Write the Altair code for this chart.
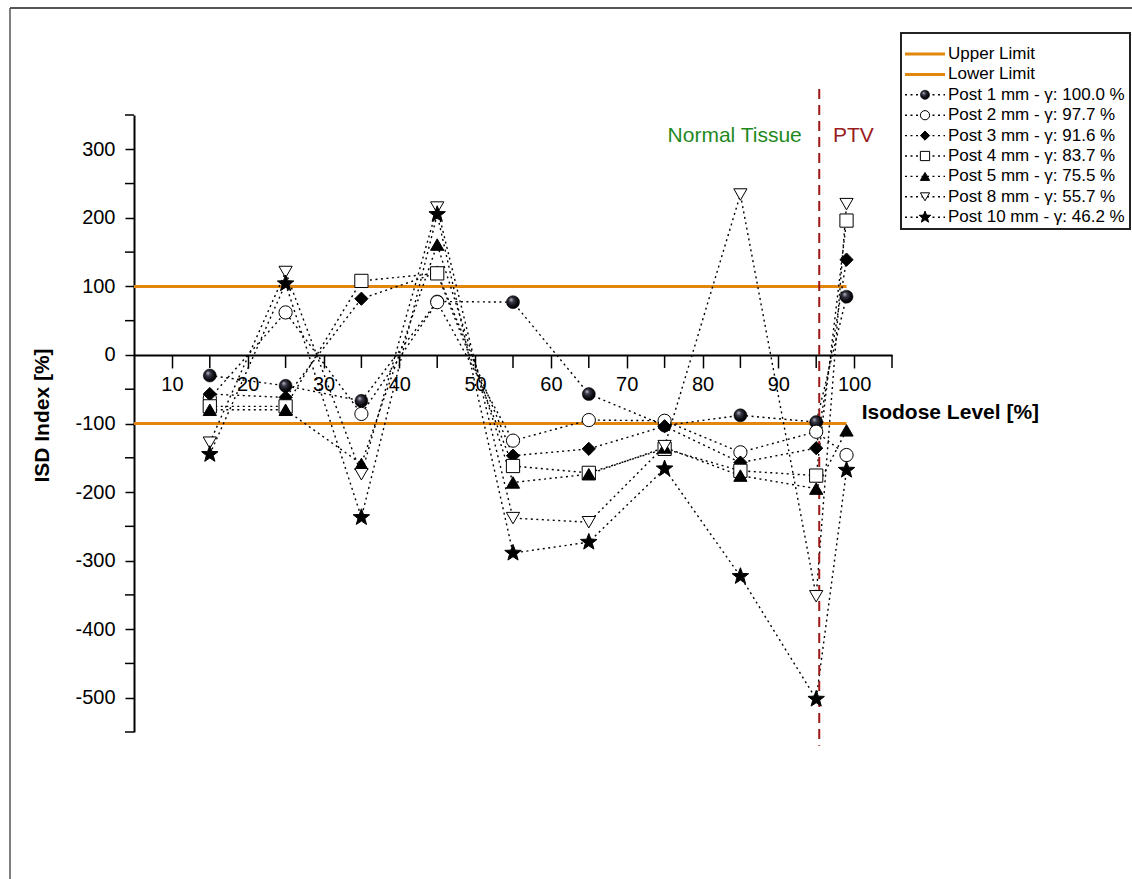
import math
import altair as alt
import pandas as pd

# Isodose levels [%] at which the ISD index was evaluated
isodose = [15, 25, 35, 45, 55, 65, 75, 85, 95, 99]

# ISD index [%] per post-shift series
post_1mm = [-30, -45, -67, 78, 77, -57, -103, -88, -98, 85]
post_2mm = [-63, 62, -86, 77, -125, -95, -96, -142, -112, -146]
post_3mm = [-57, -62, 82, 120, -147, -137, -104, -157, -136, 139]
post_4mm = [-75, -75, 108, 119, -162, -172, -137, -169, -176, 196]
post_5mm = [-80, -80, -159, 161, -186, -174, -135, -176, -195, -110]
post_8mm = [-128, 121, -174, 215, -238, -244, -133, 234, -352, 220]
post_10mm = [-145, 104, -237, 205, -289, -273, -166, -323, -502, -168]

series_names = [
    "Post 1 mm - γ: 100.0 %",
    "Post 2 mm - γ: 97.7 %",
    "Post 3 mm - γ: 91.6 %",
    "Post 4 mm - γ: 83.7 %",
    "Post 5 mm - γ: 75.5 %",
    "Post 8 mm - γ: 55.7 %",
    "Post 10 mm - γ: 46.2 %",
]
series_values = [post_1mm, post_2mm, post_3mm, post_4mm, post_5mm, post_8mm, post_10mm]

upper_limit = 100
lower_limit = -100
ptv_boundary = 95.4

# labelled and unlabelled tick positions
x_major = list(range(10, 101, 10))
x_minor = list(range(15, 106, 10))
y_major = list(range(-500, 301, 100))
y_minor = list(range(-550, 351, 100))

# five-pointed star as a custom symbol path
star_pts = []
for k in range(10):
    ang = -math.pi / 2 + k * math.pi / 5
    r = 1.0 if k % 2 == 0 else 0.42
    star_pts.append(f"{r * math.cos(ang):.3f},{r * math.sin(ang):.3f}")
STAR = "M" + "L".join(star_pts) + "Z"

shape_range = ["circle", "circle", "diamond", "square", "triangle-up", "triangle-down", STAR]
fill_range = ["black", "white", "black", "white", "black", "white", "black"]

rows = []
for name, vals in zip(series_names, series_values):
    for xv, yv in zip(isodose, vals):
        rows.append({"series": name, "x": xv, "y": yv})
df = pd.DataFrame(rows)

W, H = 758, 617
PAD_L, PAD_T = 134, 115
X_DOM = (5, 105)
Y_DOM = (-550, 350)
ORANGE = "#e2870b"
FONT = "Liberation Sans"
X_TICK, Y_TICK = 13, 9


def px_to_x(px):
    # page pixel column -> isodose value on the shared x scale
    return X_DOM[0] + (px - PAD_L) * (X_DOM[1] - X_DOM[0]) / W


def py_to_y(py):
    # page pixel row -> ISD value on the shared y scale
    return Y_DOM[1] - (py - PAD_T) * (Y_DOM[1] - Y_DOM[0]) / H


xscale = alt.Scale(domain=list(X_DOM), nice=False, zero=False)
yscale = alt.Scale(domain=list(Y_DOM), nice=False, zero=False)

x_axis = alt.Axis(
    orient="bottom", offset=-H * (0 - Y_DOM[0]) / (Y_DOM[1] - Y_DOM[0]), values=x_major,
    tickSize=X_TICK, tickWidth=1.5, tickColor="black", domainColor="black", domainWidth=2,
    labelFontSize=20, labelPadding=7, labelColor="black", labelFont=FONT,
    labelOverlap=False, grid=False, title=None,
)
y_axis = alt.Axis(
    values=y_major,
    tickSize=Y_TICK, tickWidth=1.5, tickColor="black", domainColor="black", domainWidth=2,
    labelFontSize=20, labelPadding=10, labelColor="black", labelFont=FONT,
    labelOverlap=False, grid=False, title="ISD Index [%]", titleFontSize=21, titleFont=FONT,
    titleFontWeight="bold", titleColor="black", titleX=-92, titleY=300,
    titleBaseline="middle", titleAngle=270,
)

base = alt.Chart(df)

lines = base.mark_line(color="black", strokeWidth=1.4, strokeDash=[2, 3.5]).encode(
    x=alt.X("x:Q", scale=xscale, axis=x_axis),
    y=alt.Y("y:Q", scale=yscale, axis=y_axis),
    detail="series:N",
    order="x:Q",
)

# unlabelled intermediate ticks on both axes
x_minor_ticks = alt.Chart(pd.DataFrame({"v": x_minor})).mark_tick(
    orient="vertical", size=X_TICK, thickness=1.5, color="black", opacity=1, yOffset=X_TICK / 2
).encode(x="v:Q", y=alt.datum(0))
y_minor_ticks = alt.Chart(pd.DataFrame({"v": y_minor})).mark_tick(
    orient="horizontal", size=Y_TICK, thickness=1.5, color="black", opacity=1, xOffset=-Y_TICK / 2
).encode(y="v:Q", x=alt.datum(X_DOM[0]))

sphere = alt.RadialGradient(
    gradient="radial",
    stops=[
        alt.GradientStop(color="#c4c4d4", offset=0),
        alt.GradientStop(color="#3a3a48", offset=0.3),
        alt.GradientStop(color="#0a0a10", offset=0.7),
        alt.GradientStop(color="#000000", offset=1),
    ],
    x1=0.35, y1=0.3, r1=0, x2=0.45, y2=0.45, r2=0.6,
)

pts_post1 = base.transform_filter(alt.datum.series == series_names[0]).mark_point(
    filled=True, fill=sphere, stroke="black", strokeWidth=0.5, size=170, opacity=1, shape="circle"
).encode(x="x:Q", y="y:Q")

shape_scale = alt.Scale(domain=series_names, range=shape_range)
fill_scale = alt.Scale(domain=series_names, range=fill_range)

pts_rest = base.transform_filter(alt.datum.series != series_names[0]).mark_point(
    filled=True, stroke="black", strokeWidth=1, opacity=1
).encode(
    x="x:Q", y="y:Q",
    shape=alt.Shape("series:N", scale=shape_scale, legend=None),
    fill=alt.Fill("series:N", scale=fill_scale, legend=None),
    size=alt.condition(alt.datum.series == series_names[6], alt.value(300), alt.value(175)),
)

limit_df = pd.DataFrame({"y": [upper_limit, lower_limit], "x0": [5, 5], "x1": [99, 99]})
limits = alt.Chart(limit_df).mark_rule(color=ORANGE, strokeWidth=3).encode(
    x="x0:Q", x2="x1:Q", y="y:Q"
)

ptv_line = alt.Chart().mark_rule(color="#a01818", strokeWidth=2, strokeDash=[10, 6]).encode(
    x=alt.datum(ptv_boundary), y=alt.datum(388), y2=alt.datum(-570)
)

txt_normal = alt.Chart().mark_text(
    text="Normal Tissue", color="#1e8a1e", fontSize=21, font=FONT, align="right", baseline="middle"
).encode(x=alt.datum(93.1), y=alt.datum(320))
txt_ptv = alt.Chart().mark_text(
    text="PTV", color="#9b1c1c", fontSize=21, font=FONT, align="left", baseline="middle"
).encode(x=alt.datum(97.2), y=alt.datum(320))
txt_xtitle = alt.Chart().mark_text(
    text="Isodose Level [%]", color="black", fontSize=21, font=FONT, fontWeight="bold",
    align="left", baseline="middle"
).encode(x=alt.datum(101.0), y=alt.datum(-85))

# figure frame (top and left edges)
frame_top = alt.Chart().mark_rule(color="#555555", strokeWidth=2).encode(
    x=alt.value(10 - PAD_L), x2=alt.value(1132 - PAD_L), y=alt.value(8 - PAD_T)
)
frame_left = alt.Chart().mark_rule(color="#555555", strokeWidth=1.5).encode(
    x=alt.value(10 - PAD_L), y=alt.value(8 - PAD_T), y2=alt.value(879 - PAD_T)
)

# legend box and entries
legend_box = alt.Chart().mark_rect(fill="white", stroke="#222222", strokeWidth=2).encode(
    x=alt.value(901 - PAD_L), x2=alt.value(1130 - PAD_L),
    y=alt.value(33 - PAD_T), y2=alt.value(229 - PAD_T),
)

legend_labels = ["Upper Limit", "Lower Limit"] + series_names
legend_kind = ["limit", "limit"] + ["series"] * len(series_names)
leg = pd.DataFrame({"label": legend_labels, "kind": legend_kind, "row": range(len(legend_labels))})
leg["series"] = leg["label"]
leg["ly"] = py_to_y(54 + leg["row"] * 20.4)
leg["lx1"] = px_to_x(905)
leg["lx2"] = px_to_x(945)
leg["mx"] = px_to_x(925)
leg["tx"] = px_to_x(948)

leg_base = alt.Chart(leg)
leg_text = leg_base.mark_text(
    fontSize=17, font=FONT, color="black", align="left", baseline="middle"
).encode(x="tx:Q", y="ly:Q", text="label:N")
leg_limit = leg_base.transform_filter(alt.datum.kind == "limit").mark_rule(
    color=ORANGE, strokeWidth=3
).encode(x="lx1:Q", x2="lx2:Q", y="ly:Q")
leg_dots = leg_base.transform_filter(alt.datum.kind == "series").mark_rule(
    color="black", strokeWidth=1.4, strokeDash=[2, 3.5]
).encode(x="lx1:Q", x2="lx2:Q", y="ly:Q")
leg_sphere = leg_base.transform_filter(alt.datum.label == series_names[0]).mark_point(
    filled=True, fill=sphere, stroke="black", strokeWidth=0.5, size=85, opacity=1, shape="circle"
).encode(x="mx:Q", y="ly:Q")
leg_pts = leg_base.transform_filter(
    (alt.datum.kind == "series") & (alt.datum.label != series_names[0])
).mark_point(filled=True, stroke="black", strokeWidth=1, opacity=1).encode(
    x="mx:Q", y="ly:Q",
    shape=alt.Shape("series:N", scale=shape_scale, legend=None),
    fill=alt.Fill("series:N", scale=fill_scale, legend=None),
    size=alt.condition(alt.datum.series == series_names[6], alt.value(150), alt.value(85)),
)

chart = alt.layer(
    frame_top, frame_left,
    limits, lines, x_minor_ticks, y_minor_ticks, ptv_line, pts_post1, pts_rest,
    txt_normal, txt_ptv, txt_xtitle,
    legend_box, leg_limit, leg_dots, leg_sphere, leg_pts, leg_text,
).properties(
    width=W, height=H,
    autosize=alt.AutoSizeParams(type="none"),
    padding={"left": PAD_L, "top": PAD_T, "right": 1132 - PAD_L - W, "bottom": 879 - PAD_T - H},
    background="white",
).configure(
    locale={"number": {"decimal": ".", "thousands": ",", "grouping": [3],
                       "currency": ["", ""], "minus": "-"}}
).configure_view(stroke=None)

chart.save("out.html", embed_options={"renderer": "svg", "actions": False})
